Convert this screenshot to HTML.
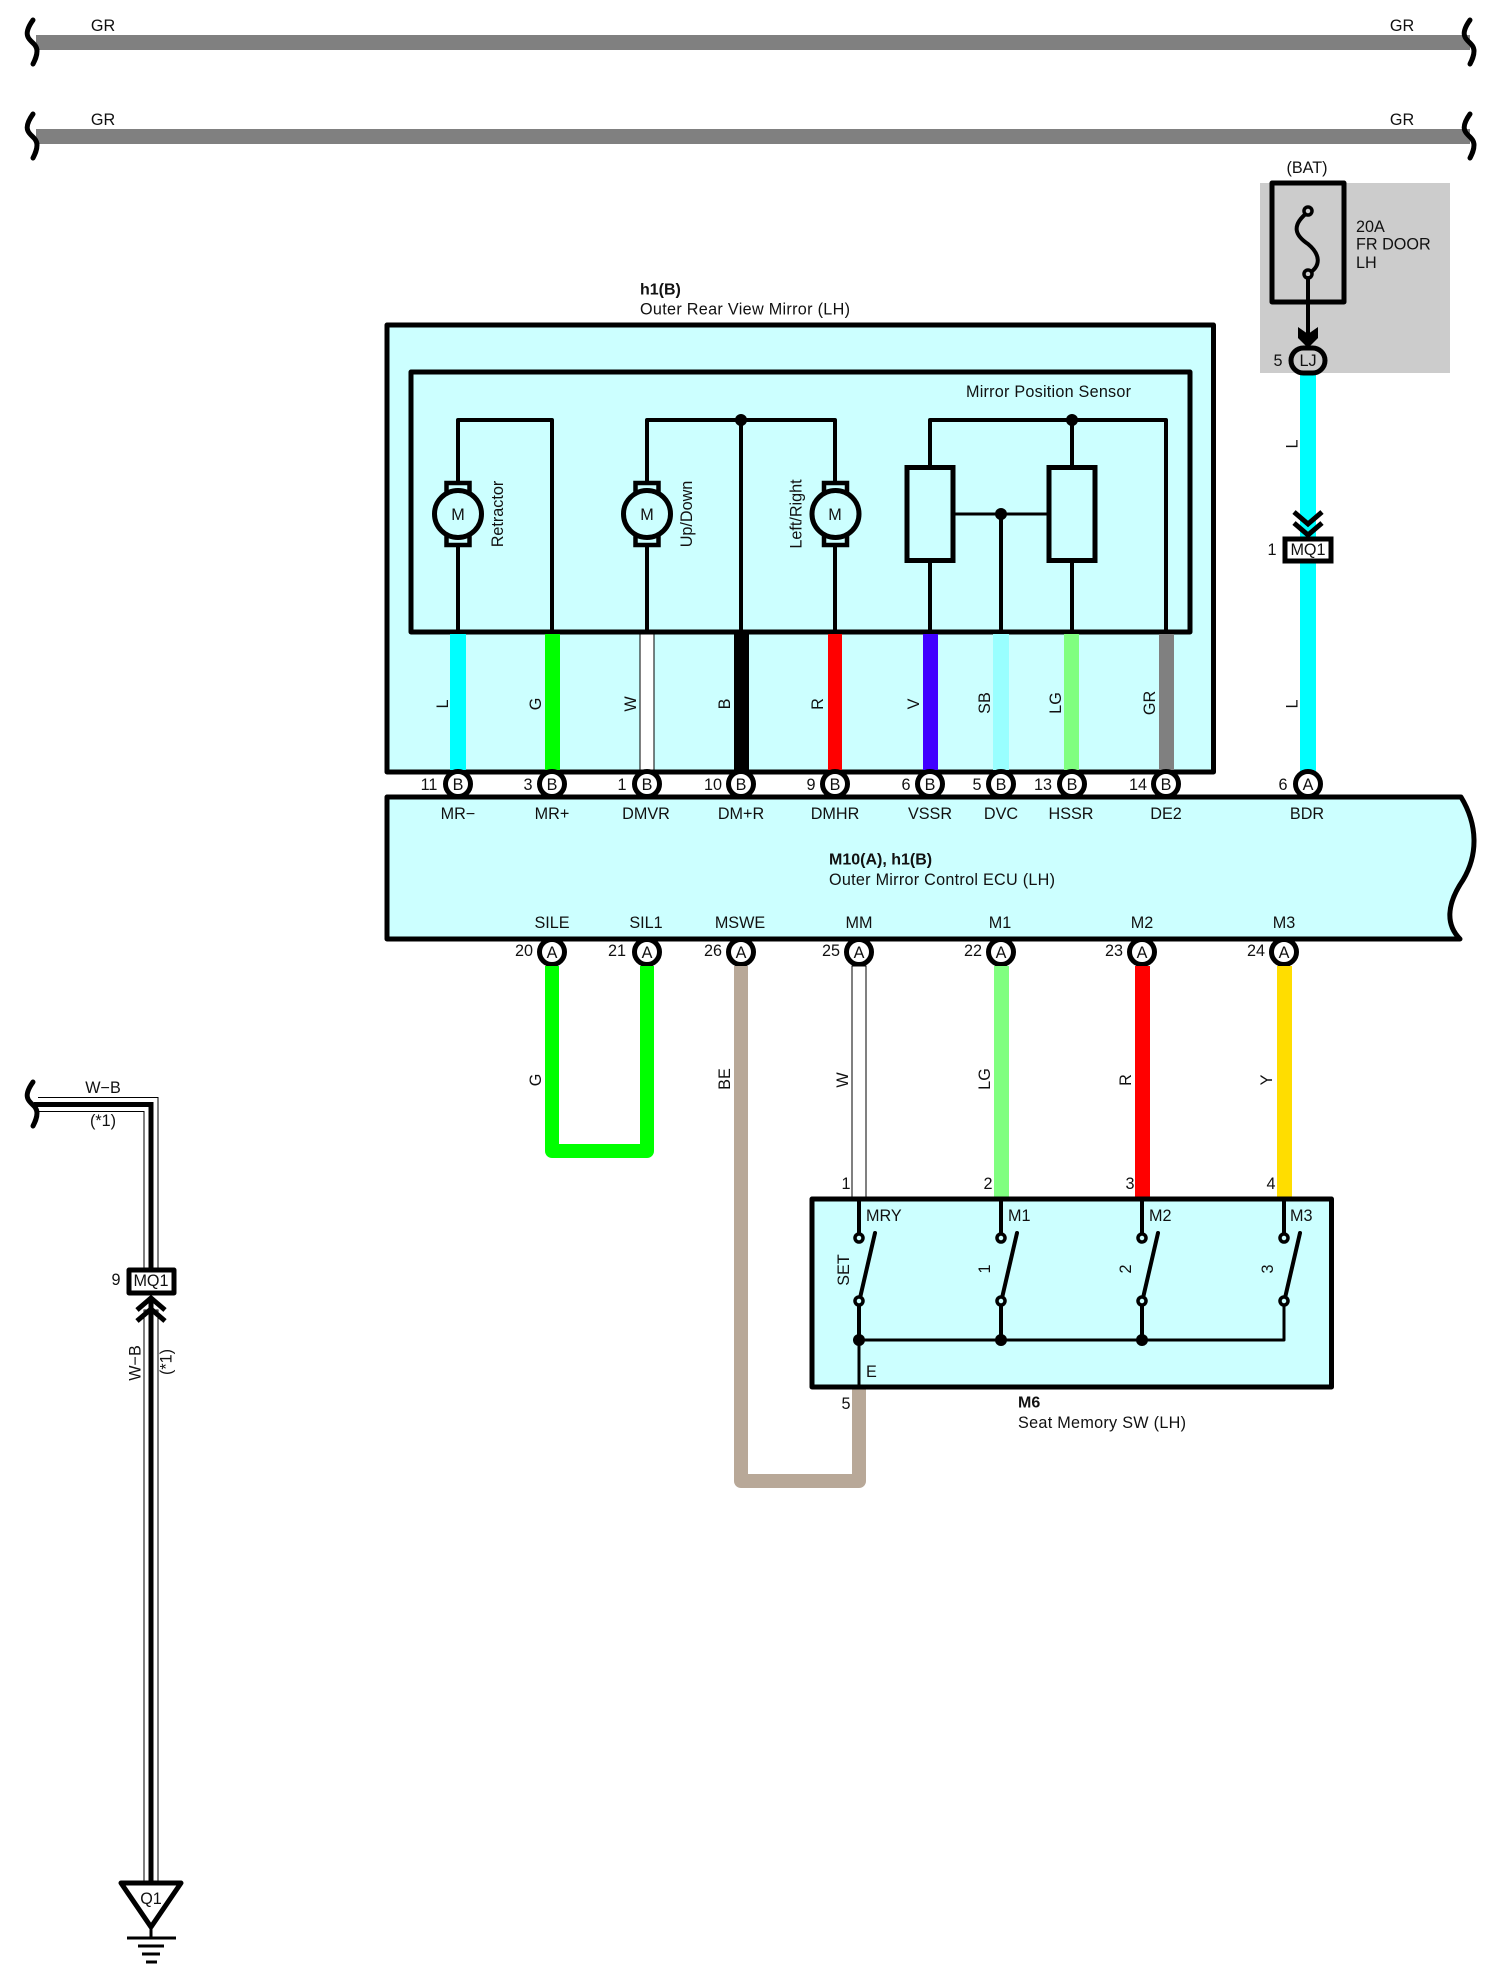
<!DOCTYPE html>
<html><head><meta charset="utf-8"><title>Wiring diagram</title>
<style>
html,body{margin:0;padding:0;background:#fff}
svg{display:block}
text{font-family:"Liberation Sans",sans-serif;font-size:16.2px;fill:#111;dominant-baseline:middle}
.m{text-anchor:middle}
.b{font-weight:bold}
.k{fill:none;stroke:#000;stroke-width:4;stroke-linejoin:round;stroke-linecap:round}
.t{stroke-width:3}
.f{fill:#ccffff;stroke:#000;stroke-width:5;stroke-linejoin:round}
.p{fill:#fff;stroke:#000;stroke-width:5}
.j{fill:#000}
.brace{fill:none;stroke:#000;stroke-width:5;stroke-linecap:round}
.term{fill:#ccffff;stroke:#000;stroke-width:3.5}
.wire{fill:none;stroke-width:14;stroke-linejoin:round}
</style></head>
<body>
<svg width="1500" height="1980" viewBox="0 0 1500 1980" xmlns="http://www.w3.org/2000/svg">
<defs>
<g id="motor">
<rect x="-11.500" y="-31" width="23" height="62" fill="#ccffff" stroke="#000" stroke-width="4.500"/>
<circle r="23.500" fill="#ccffff" stroke="#000" stroke-width="5"/>
</g>
<path id="br" d="M33 -22 C28 -15 26 -9 28 -5 C30 0 37 2 37 9 C37 14 35 18 33 22"/>
</defs>

<!-- top bars -->
<rect x="36" y="35" width="1434" height="15" fill="#808080"/>
<rect x="36" y="129" width="1434" height="15" fill="#808080"/>
<use href="#br" class="brace" x="0" y="42"/>
<use href="#br" class="brace" x="0" y="136"/>
<use href="#br" class="brace" x="1437" y="42"/>
<use href="#br" class="brace" x="1437" y="136"/>
<text dy="1.5" class="m" x="103" y="25">GR</text><text dy="1.5" class="m" x="1402" y="25">GR</text>
<text dy="1.5" class="m" x="103" y="119">GR</text><text dy="1.5" class="m" x="1402" y="119">GR</text>

<!-- fuse block -->
<rect x="1260" y="183" width="190" height="190" fill="#cccccc"/>
<text dy="1.5" class="m" x="1307" y="167">(BAT)</text>
<rect x="1272" y="183" width="72" height="119" fill="none" stroke="#000" stroke-width="5" stroke-linejoin="round"/>
<path d="M1308 212 C1290 226 1296 236 1308 244 C1320 254 1322 266 1308 274" fill="none" stroke="#000" stroke-width="4"/>
<circle cx="1308" cy="211" r="4" class="term" style="fill:#ccc"/>
<circle cx="1308" cy="274" r="4" class="term" style="fill:#ccc"/>
<line x1="1308" y1="278" x2="1308" y2="340" class="k"/>
<path d="M1298 327 L1308 334 L1318 327 L1318 338 L1308 348 L1298 338 Z" fill="#000"/>
<text dy="0.5" x="1356" y="227">20A</text><text dy="1" x="1356" y="244">FR DOOR</text><text dy="0.5" x="1356" y="263">LH</text>

<!-- BDR wire -->
<rect x="1300" y="375" width="16" height="400" fill="#00ffff"/>
<rect x="1291" y="348" width="34" height="25" rx="12.500" fill="#cccccc" stroke="#000" stroke-width="5"/>
<text dy="1.5" class="m" x="1308" y="360">LJ</text>
<text dy="1.5" class="m" x="1278" y="360">5</text>
<text dy="2" class="m" transform="rotate(-90 1291 444)" x="1291" y="444">L</text>
<text dy="2" class="m" transform="rotate(-90 1291 704)" x="1291" y="704">L</text>
<path d="M1294 512 L1308 524 L1322 512 M1294 523 L1308 535 L1322 523" fill="none" stroke="#000" stroke-width="5"/>
<rect x="1285" y="539" width="46" height="22" fill="#fff" stroke="#000" stroke-width="5"/>
<text dy="1.5" class="m" x="1308" y="549">MQ1</text>
<text dy="1.5" class="m" x="1272" y="549">1</text>

<!-- mirror outer box -->
<text dy="1.5" class="b" x="640" y="289" style="font-size:16px">h1(B)</text>
<text dy="1" x="640" y="309" textLength="210">Outer Rear View Mirror (LH)</text>
<rect x="387" y="325" width="826.500" height="447" class="f"/>
<rect x="411" y="372" width="779" height="260" class="f"/>
<text dy="1.5" x="966" y="391" textLength="165">Mirror Position Sensor</text>

<!-- internal wires -->
<path d="M458 632 V420 H552 V632" class="k"/>
<path d="M647 632 V420 H835 V632 M741 420 V632" class="k"/>
<path d="M930 632 V420 H1166 V632 M1072 420 V632 M1001 514 V632" class="k"/>
<path d="M953 514 H1049" class="k t"/>
<circle cx="741" cy="420" r="6" class="j"/>
<circle cx="1072" cy="420" r="6" class="j"/>
<circle cx="1001" cy="514" r="6" class="j"/>
<use href="#motor" x="458" y="514"/><use href="#motor" x="647" y="514"/><use href="#motor" x="835.500" y="514"/>
<text dy="1.5" class="m" x="458" y="514">M</text><text dy="1.5" class="m" x="647" y="514">M</text><text dy="1.5" class="m" x="835" y="514">M</text>
<text dy="1.5" class="m" transform="rotate(-90 497 514)" x="497" y="514">Retractor</text>
<text dy="1.5" class="m" transform="rotate(-90 686 514)" x="686" y="514">Up/Down</text>
<text dy="1" class="m" transform="rotate(-90 796 514)" x="796" y="514">Left/Right</text>
<rect x="907" y="467.500" width="46" height="93" fill="#ccffff" stroke="#000" stroke-width="5"/>
<rect x="1049" y="467.500" width="46" height="93" fill="#ccffff" stroke="#000" stroke-width="5"/>

<!-- wires inner -> connectors -->
<rect x="450" y="634" width="16" height="136" fill="#00ffff"/>
<rect x="545" y="634" width="15" height="136" fill="#00ff00"/>
<rect x="640" y="634" width="14" height="136" fill="#fff" stroke="#000" stroke-width="1"/>
<rect x="734" y="634" width="15" height="136" fill="#000"/>
<rect x="828" y="634" width="14" height="136" fill="#ff0000"/>
<rect x="923" y="634" width="15" height="136" fill="#4000ff"/>
<rect x="993" y="634" width="16" height="136" fill="#99ffff"/>
<rect x="1064" y="634" width="15" height="136" fill="#80ff80"/>
<rect x="1159" y="634" width="15" height="136" fill="#808080"/>
<text dy="2.5" class="m" transform="rotate(-90 441 704)" x="441" y="704">L</text>
<text dy="2.5" class="m" transform="rotate(-90 534 704)" x="534" y="704">G</text>
<text dy="2.5" class="m" transform="rotate(-90 629 704)" x="629" y="704">W</text>
<text dy="2.5" class="m" transform="rotate(-90 723 704)" x="723" y="704">B</text>
<text dy="2.5" class="m" transform="rotate(-90 816 704)" x="816" y="704">R</text>
<text dy="2.5" class="m" transform="rotate(-90 912 704)" x="912" y="704">V</text>
<text dy="2.5" class="m" transform="rotate(-90 983 703)" x="983" y="703">SB</text>
<text dy="2.5" class="m" transform="rotate(-90 1054 703)" x="1054" y="703">LG</text>
<text dy="2.5" class="m" transform="rotate(-90 1148 703)" x="1148" y="703">GR</text>

<!-- ECU -->
<path d="M387 797 H1461 C1478 825 1478 855 1463 880 C1446 905 1446 925 1460 939 H387 Z" class="f"/>
<g class="p">
<circle cx="458" cy="784" r="12.500"/><circle cx="552" cy="784" r="12.500"/><circle cx="647" cy="784" r="12.500"/>
<circle cx="741" cy="784" r="12.500"/><circle cx="835" cy="784" r="12.500"/><circle cx="930" cy="784" r="12.500"/>
<circle cx="1001" cy="784" r="12.500"/><circle cx="1072" cy="784" r="12.500"/><circle cx="1166" cy="784" r="12.500"/>
<circle cx="1308" cy="784" r="12.500"/>
<circle cx="552" cy="952" r="12.500"/><circle cx="647" cy="952" r="12.500"/><circle cx="741" cy="952" r="12.500"/>
<circle cx="859" cy="952" r="12.500"/><circle cx="1001" cy="952" r="12.500"/><circle cx="1142" cy="952" r="12.500"/><circle cx="1284" cy="952" r="12.500"/>
</g>
<text dy="1.5" class="m" x="458" y="784">B</text><text dy="1.5" class="m" x="552" y="784">B</text><text dy="1.5" class="m" x="647" y="784">B</text>
<text dy="1.5" class="m" x="741" y="784">B</text><text dy="1.5" class="m" x="835" y="784">B</text><text dy="1.5" class="m" x="930" y="784">B</text>
<text dy="1.5" class="m" x="1001" y="784">B</text><text dy="1.5" class="m" x="1072" y="784">B</text><text dy="1.5" class="m" x="1166" y="784">B</text>
<text dy="1.5" class="m" x="1308" y="784">A</text>
<text dy="1.5" class="m" x="552" y="952">A</text><text dy="1.5" class="m" x="647" y="952">A</text><text dy="1.5" class="m" x="741" y="952">A</text>
<text dy="1.5" class="m" x="859" y="952">A</text><text dy="1.5" class="m" x="1001" y="952">A</text><text dy="1.5" class="m" x="1142" y="952">A</text><text dy="1.5" class="m" x="1284" y="952">A</text>
<text dy="1.5" class="m" x="429" y="784">11</text><text dy="1.5" class="m" x="528" y="784">3</text><text dy="1.5" class="m" x="622" y="784">1</text>
<text dy="1.5" class="m" x="713" y="784">10</text><text dy="1.5" class="m" x="811" y="784">9</text><text dy="1.5" class="m" x="906" y="784">6</text>
<text dy="1.5" class="m" x="977" y="784">5</text><text dy="1.5" class="m" x="1043" y="784">13</text><text dy="1.5" class="m" x="1138" y="784">14</text><text dy="1.5" class="m" x="1283" y="784">6</text>
<text dy="1.5" class="m" x="524" y="950">20</text><text dy="1.5" class="m" x="617" y="950">21</text><text dy="1.5" class="m" x="713" y="950">26</text>
<text dy="1.5" class="m" x="831" y="950">25</text><text dy="1.5" class="m" x="973" y="950">22</text><text dy="1.5" class="m" x="1114" y="950">23</text><text dy="1.5" class="m" x="1256" y="950">24</text>
<text dy="1.5" class="m" x="458" y="813">MR−</text><text dy="1.5" class="m" x="552" y="813">MR+</text><text dy="1.5" class="m" x="646" y="813">DMVR</text>
<text dy="1.5" class="m" x="741" y="813">DM+R</text><text dy="1.5" class="m" x="835" y="813">DMHR</text><text dy="1.5" class="m" x="930" y="813">VSSR</text>
<text dy="1.5" class="m" x="1001" y="813">DVC</text><text dy="1.5" class="m" x="1071" y="813">HSSR</text><text dy="1.5" class="m" x="1166" y="813">DE2</text><text dy="1.5" class="m" x="1307" y="813">BDR</text>
<text dy="1.5" class="m" x="552" y="922">SILE</text><text dy="1.5" class="m" x="646" y="922">SIL1</text><text dy="1.5" class="m" x="740" y="922">MSWE</text>
<text dy="1.5" class="m" x="859" y="922">MM</text><text dy="1.5" class="m" x="1000" y="922">M1</text><text dy="1.5" class="m" x="1142" y="922">M2</text><text dy="1.5" class="m" x="1284" y="922">M3</text>
<text dy="1.5" class="b" x="829" y="859" style="font-size:16px">M10(A), h1(B)</text>
<text dy="1.5" x="829" y="879" textLength="226">Outer Mirror Control ECU (LH)</text>

<!-- lower wires -->
<path d="M552 966 V1151 H647 V966" class="wire" stroke="#00ff00"/>
<path d="M741 966 V1481 H859 V1388" class="wire" stroke="#b8a898"/>
<rect x="852" y="966" width="14" height="233" fill="#fff" stroke="#000" stroke-width="1"/>
<rect x="994" y="966" width="15" height="233" fill="#80ff80"/>
<rect x="1135" y="966" width="15" height="233" fill="#ff0000"/>
<rect x="1277" y="966" width="15" height="233" fill="#ffdd00"/>
<text dy="2.5" class="m" transform="rotate(-90 534 1080)" x="534" y="1080">G</text>
<text dy="2.5" class="m" transform="rotate(-90 723 1079)" x="723" y="1079">BE</text>
<text dy="2.5" class="m" transform="rotate(-90 841 1080)" x="841" y="1080">W</text>
<text dy="2.5" class="m" transform="rotate(-90 983 1079)" x="983" y="1079">LG</text>
<text dy="2.5" class="m" transform="rotate(-90 1124 1080)" x="1124" y="1080">R</text>
<text dy="2.5" class="m" transform="rotate(-90 1265 1080)" x="1265" y="1080">Y</text>

<!-- seat memory switch -->
<rect x="812" y="1199" width="519.500" height="188" class="f"/>
<path d="M859 1199 V1238 M1001 1199 V1238 M1142 1199 V1238 M1284 1199 V1238" class="k"/>
<path d="M859 1301 V1340 M1001 1301 V1340 M1142 1301 V1340" class="k"/>
<path d="M1284 1301 V1340 H859 V1386" class="k t"/>
<path d="M875 1233 L860 1298 M1017 1233 L1002 1298 M1158 1233 L1143 1298 M1300 1233 L1285 1298" class="k"/>
<circle cx="859" cy="1238" r="4" class="term"/><circle cx="1001" cy="1238" r="4" class="term"/><circle cx="1142" cy="1238" r="4" class="term"/><circle cx="1284" cy="1238" r="4" class="term"/>
<circle cx="859" cy="1301" r="4" class="term"/><circle cx="1001" cy="1301" r="4" class="term"/><circle cx="1142" cy="1301" r="4" class="term"/><circle cx="1284" cy="1301" r="4" class="term"/>
<circle cx="859" cy="1340" r="6" class="j"/><circle cx="1001" cy="1340" r="6" class="j"/><circle cx="1142" cy="1340" r="6" class="j"/>
<text dy="1.5" x="866" y="1215">MRY</text><text dy="1.5" x="1008" y="1215">M1</text><text dy="1.5" x="1149" y="1215">M2</text><text dy="1.5" x="1290" y="1215">M3</text>
<text dy="1.5" x="866" y="1371">E</text>
<text dy="2.5" class="m" transform="rotate(-90 842 1270)" x="842" y="1270">SET</text>
<text dy="1.5" class="m" transform="rotate(-90 984 1269)" x="984" y="1269">1</text>
<text dy="1.5" class="m" transform="rotate(-90 1125 1269)" x="1125" y="1269">2</text>
<text dy="1.5" class="m" transform="rotate(-90 1267 1269)" x="1267" y="1269">3</text>
<text dy="1.5" class="m" x="846" y="1183">1</text><text dy="1.5" class="m" x="988" y="1183">2</text><text dy="1.5" class="m" x="1130" y="1183">3</text><text dy="1.5" class="m" x="1271" y="1183">4</text>
<text dy="1.5" class="m" x="846" y="1403">5</text>
<text dy="1.5" class="b" x="1018" y="1402" style="font-size:16px">M6</text>
<text dy="1.5" x="1018" y="1422" textLength="168">Seat Memory SW (LH)</text>

<!-- left W-B wire -->
<path d="M38 1104.500 H151 V1270" fill="none" stroke="#000" stroke-width="15"/>
<path d="M38 1104.500 H151 V1270" fill="none" stroke="#fff" stroke-width="13"/>
<path d="M34 1104.500 H151 V1270" fill="none" stroke="#000" stroke-width="5"/>
<use href="#br" class="brace" x="0" y="1104"/>
<text dy="1.5" class="m" x="103" y="1087">W−B</text>
<text dy="1.5" class="m" x="103" y="1120">(*1)</text>
<rect x="129" y="1270" width="45" height="23" fill="#fff" stroke="#000" stroke-width="5" stroke-linejoin="round"/>
<text dy="1.5" class="m" x="151" y="1280">MQ1</text>
<text dy="1.5" class="m" x="116" y="1279">9</text>
<rect x="144" y="1310" width="14" height="575" fill="#fff" stroke="#000" stroke-width="1"/>
<rect x="148.500" y="1300" width="5" height="585" fill="#000"/>
<path d="M137 1310 L151 1298 L165 1310 M137 1321 L151 1309 L165 1321" fill="none" stroke="#000" stroke-width="5"/>
<text dy="2" class="m" transform="rotate(-90 134 1363)" x="134" y="1363">W−B</text>
<text dy="2" class="m" transform="rotate(-90 165 1362)" x="165" y="1362">(*1)</text>

<!-- ground -->
<path d="M121 1883 H181 L151 1927 Z" fill="#fff" stroke="#000" stroke-width="5" stroke-linejoin="round"/>
<text dy="1.5" class="m" x="151" y="1898">Q1</text>
<path d="M151 1927 V1938 M127 1938 H176" class="k t" style="stroke-linecap:butt"/>
<path d="M138 1946 H164 M142 1954 H160 M146 1962 H157" class="k t" style="stroke-linecap:butt"/>
</svg>
</body></html>
